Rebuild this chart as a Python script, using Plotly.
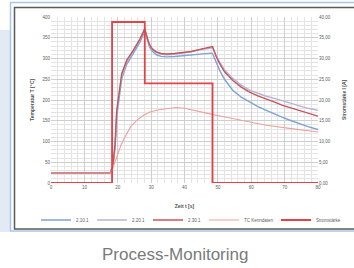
import plotly.graph_objects as go

# ---- data ----
t_temp = [0, 5, 10, 15, 17.7, 18.5, 19.2, 19.7, 20.5, 21.2, 22.7, 24.7, 26.7, 28.1, 29.0, 29.6,
          30.5, 31.6, 33, 34.6, 37, 39.6, 42, 44.6, 46.5, 48.0, 48.4, 49.5, 50.5, 52, 54.5, 57,
          59.5, 62, 64.5, 67, 69.4, 72, 74.4, 77, 80]
T_2101 = [24, 24, 24, 24, 24, 36, 85, 160, 212, 252, 286, 312, 340, 366, 340, 326,
          316, 309, 305, 304, 305, 307, 309, 311, 313, 313, 312, 290, 272, 250, 223, 207,
          195, 184, 175, 166, 158, 150, 143, 136, 129]
T_2201 = [24, 24, 24, 24, 24, 38, 90, 170, 220, 258, 292, 318, 346, 370, 343, 330,
          320, 314, 310, 309, 310, 313, 316, 321, 324, 326, 326, 306, 291, 272, 252, 236,
          224, 216, 209, 204, 199, 192, 186, 180, 175]
T_2301 = [24, 24, 24, 24, 24, 40, 95, 175, 225, 264, 296, 320, 348, 372, 345, 332,
          322, 316, 312, 311, 312, 314, 317, 322, 326, 329, 329, 305, 288, 268, 247, 231,
          219, 210, 203, 195, 187, 181, 175, 168, 161]
t_tc = [0, 17.7, 18.5, 19.7, 21, 22.7, 24, 25.7, 27.5, 29.6, 32, 34.6, 37.6, 40, 42.6, 45,
        48, 51, 54.5, 60, 64.5, 72, 80]
T_tc = [24, 24, 35, 63, 92, 119, 137, 151, 162, 171, 176, 179, 182, 180, 176, 171,
        166, 161, 155, 147, 139, 131, 123]
t_I = [0, 18.3, 28.1, 48.4, 80]
I_val = [0, 38.8, 24, 0, 0]

left_ticks = [0, 50, 100, 150, 200, 250, 300, 350, 400]
right_ticks = [0, 5, 10, 15, 20, 25, 30, 35, 40]
x_ticks = [0, 10, 20, 30, 40, 50, 60, 70, 80]

W, H = 354, 268
L, R, T, B = 51, 36, 17, 85
pw, ph = W - L - R, H - T - B


def px(x):
    return (x - L) / pw


def py(y):
    return (H - B - y) / ph


fig = go.Figure()
fig.add_trace(go.Scatter(x=t_temp, y=T_2101, name="2.10.1", mode="lines", legend="legend",
                         line=dict(color="#7fa3d4", width=1.4)))
fig.add_trace(go.Scatter(x=t_temp, y=T_2201, name="2.20.1", mode="lines", legend="legend2",
                         line=dict(color="#b9b3d6", width=1.4)))
fig.add_trace(go.Scatter(x=t_temp, y=T_2301, name="2.30.1", mode="lines", legend="legend3",
                         line=dict(color="#c4555a", width=1.4)))
fig.add_trace(go.Scatter(x=t_tc, y=T_tc, name="TC Kenndaten", mode="lines", legend="legend4",
                         line=dict(color="#eaa39c", width=1.1)))
fig.add_trace(go.Scatter(x=t_I, y=I_val, name="Stromstärke", mode="lines", yaxis="y2",
                         legend="legend5", line=dict(color="#e2434a", width=1.8, shape="hv")))

tickfont = dict(size=4.5, color="#606060", family="Liberation Sans")
titlefont = dict(size=5, color="#505050", family="Liberation Sans")
legfont = dict(size=4.5, color="#606060", family="Liberation Sans")
grid_major = "#cfcfcf"
grid_minor = "#e4e4e4"


def leg(xpix):
    return dict(orientation="h", xref="container", x=xpix / W, xanchor="left",
                y=py(220), yanchor="middle", font=legfont, itemwidth=30,
                bgcolor="rgba(0,0,0,0)", borderwidth=0)


shapes = [
    # left light strip
    dict(type="rect", xref="paper", yref="paper", x0=px(0), x1=px(10), y0=py(232), y1=py(30),
         fillcolor="#e3eaf3", line=dict(width=0), layer="below"),
    # card border
    dict(type="rect", xref="paper", yref="paper", x0=px(10.5), x1=px(360), y0=py(231), y1=py(2.5),
         fillcolor="rgba(0,0,0,0)", line=dict(color="#a9c5e6", width=1.5), layer="below"),
    # dark frame
    dict(type="rect", xref="paper", yref="paper", x0=px(14.5), x1=px(360), y0=py(229), y1=py(7.5),
         fillcolor="rgba(0,0,0,0)", line=dict(color="#5a5a5a", width=1.5), layer="below"),
]

annotations = [
    dict(text="<b>Temperatur T [°C]</b>", xref="paper", yref="paper", x=px(32), y=0.5,
         xanchor="center", yanchor="middle", textangle=-90, showarrow=False, font=titlefont),
    dict(text="<b>Stromstärke I [A]</b>", xref="paper", yref="paper", x=px(344), y=0.5,
         xanchor="center", yanchor="middle", textangle=-90, showarrow=False, font=titlefont),
    dict(text="Process-Monitoring", xref="paper", yref="paper", x=px(175), y=py(254),
         xanchor="center", yanchor="middle", showarrow=False,
         font=dict(size=17, color="#7a7a7a", family="Liberation Sans")),
]

fig.update_layout(
    width=W, height=H,
    margin=dict(l=L, r=R, t=T, b=B, pad=0, autoexpand=False),
    paper_bgcolor="white", plot_bgcolor="white",
    separators=",.",
    showlegend=True,
    legend=leg(36), legend2=leg(92), legend3=leg(148), legend4=leg(204), legend5=leg(276),
    xaxis=dict(range=[0, 80], tickvals=x_ticks, tickfont=tickfont, showgrid=True,
               gridcolor=grid_major, gridwidth=0.8, zeroline=False, showline=False, ticks="",
               minor=dict(dtick=2, showgrid=True, gridcolor=grid_minor, gridwidth=0.6),
               title=dict(text="<b>Zeit t [s]</b>", font=titlefont)),
    yaxis=dict(range=[0, 400], tickvals=left_ticks, tickfont=tickfont, showgrid=True,
               gridcolor=grid_major, gridwidth=0.8, zeroline=False, showline=False, ticks="",
               minor=dict(dtick=10, showgrid=True, gridcolor=grid_minor, gridwidth=0.6)),
    yaxis2=dict(range=[0, 40], tickvals=right_ticks, tickformat=".2f", overlaying="y", side="right",
                tickfont=tickfont, showgrid=False, zeroline=False, showline=False, ticks=""),
    shapes=shapes,
    annotations=annotations,
)

fig.write_html("out.html", config={"displayModeBar": False},
               post_script="document.body.style.margin='0';document.body.style.overflow='hidden';")
